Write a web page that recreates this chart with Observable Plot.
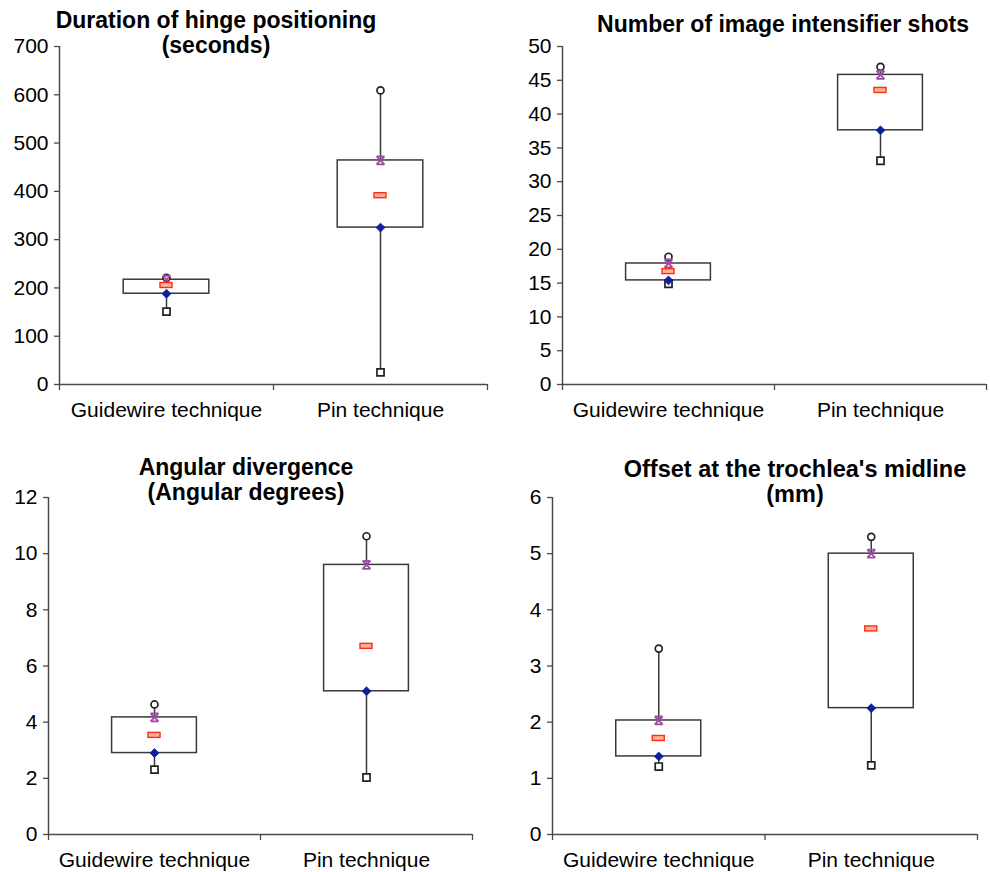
<!DOCTYPE html>
<html>
<head>
<meta charset="utf-8">
<script src="https://cdn.jsdelivr.net/npm/d3@7"></script>
<script src="https://cdn.jsdelivr.net/npm/@observablehq/plot@0.6"></script>
<style>
  body { margin: 0; background: #fff; }
  #root { position: relative; width: 990px; height: 872px; font-family: "Liberation Sans", Arial, Helvetica, sans-serif; }
  .panel { position: absolute; }
  .title { position: absolute; width: 500px; text-align: center; font-weight: bold; line-height: 25px; color: #000; white-space: nowrap; }
</style>
</head>
<body>
<div id="root"></div>
<script>
// ---- data ----
const categories = ["Guidewire technique", "Pin technique"];

const hingeTitle = ["Duration of hinge positioning", "(seconds)"];
const hingeTicks = [0, 100, 200, 300, 400, 500, 600, 700];
const hingeMin = [151, 25];
const hingeQ1 = [188, 325];
const hingeMedian = [205, 391];
const hingeQ3 = [217, 464];
const hingeMax = [221, 609];

const shotsTitle = ["Number of image intensifier shots"];
const shotsTicks = [0, 5, 10, 15, 20, 25, 30, 35, 40, 45, 50];
const shotsMin = [14.9, 33.1];
const shotsQ1 = [15.4, 37.6];
const shotsMedian = [16.7, 43.5];
const shotsQ3 = [17.9, 45.8];
const shotsMax = [18.9, 47.0];

const angTitle = ["Angular divergence", "(Angular degrees)"];
const angTicks = [0, 2, 4, 6, 8, 10, 12];
const angMin = [2.31, 2.03];
const angQ1 = [2.9, 5.1];
const angMedian = [3.53, 6.7];
const angQ3 = [4.17, 9.6];
const angMax = [4.63, 10.62];

const offTitle = ["Offset at the trochlea's midline", "(mm)"];
const offTicks = [0, 1, 2, 3, 4, 5, 6];
const offMin = [1.21, 1.23];
const offQ1 = [1.39, 2.25];
const offMedian = [1.71, 3.66];
const offQ3 = [2.03, 5.0];
const offMax = [3.31, 5.3];

// ---- layout (positions/sizes) ----
const panels = [
  {title: hingeTitle, ticks: hingeTicks, min: hingeMin, q1: hingeQ1, med: hingeMedian, q3: hingeQ3, max: hingeMax,
   left: 0, top: 0, width: 495, height: 430, mL: 59, mR: 8, mT: 46, mB: 46, tx: 216, ty: 7.5, fs: 23},
  {title: shotsTitle, ticks: shotsTicks, min: shotsMin, q1: shotsQ1, med: shotsMedian, q3: shotsQ3, max: shotsMax,
   left: 495, top: 0, width: 495, height: 430, mL: 67, mR: 4, mT: 46, mB: 46, tx: 783, ty: 11.5, fs: 23},
  {title: angTitle, ticks: angTicks, min: angMin, q1: angQ1, med: angMedian, q3: angQ3, max: angMax,
   left: 0, top: 430, width: 495, height: 442, mL: 48, mR: 23, mT: 67, mB: 38, tx: 246, ty: 454.5, fs: 23},
  {title: offTitle, ticks: offTicks, min: offMin, q1: offQ1, med: offMedian, q3: offQ3, max: offMax,
   left: 495, top: 430, width: 495, height: 442, mL: 57, mR: 13, mT: 67, mB: 38, tx: 795, ty: 456.5, fs: 23.5}
];

const hourglass = {
  draw(context, size) {
    const r = Math.sqrt(size) / 2;
    context.moveTo(-r, -r); context.lineTo(r, r);
    context.moveTo(r, -r); context.lineTo(-r, r);
    context.moveTo(-r, -r); context.lineTo(r, -r);
    context.moveTo(-r, r); context.lineTo(r, r);
  }
};

const root = document.getElementById("root");
const idx = [0, 1];
const axisColor = "#4a4a4a";

for (const p of panels) {
  const yMax = p.ticks[p.ticks.length - 1];
  const chart = Plot.plot({
    width: p.width,
    height: p.height,
    marginLeft: p.mL,
    marginRight: p.mR,
    marginTop: p.mT,
    marginBottom: p.mB,
    x: {domain: [0, 2], axis: null},
    y: {domain: [0, yMax], axis: null},
    style: {fontFamily: '"Liberation Sans", Arial, Helvetica, sans-serif', fontSize: "21px", color: "#000", background: "white", overflow: "visible"},
    marks: [
      Plot.axisY({ticks: p.ticks, tickSize: 5, tickPadding: 6, tickFormat: d => String(d), stroke: axisColor, fill: "#000", fontSize: 21, strokeWidth: 1.3}),
      Plot.axisX({ticks: [0, 1, 2], tickSize: 6, tickFormat: () => "", stroke: axisColor, strokeWidth: 1.3}),
      Plot.axisX({ticks: [0.5, 1.5], tickSize: 0, tickPadding: 18, tickFormat: d => categories[Math.floor(d)], fill: "#000", fontSize: 21}),
      Plot.ruleX([0], {stroke: axisColor, strokeWidth: 1.5}),
      Plot.ruleY([0], {stroke: axisColor, strokeWidth: 1.5}),
      // whiskers
      Plot.ruleX(idx, {x: i => i + 0.5, y1: i => p.min[i], y2: i => p.max[i], stroke: "#3a3a3a", strokeWidth: 1.5}),
      // boxes
      Plot.rect(idx, {x1: i => i + 0.3, x2: i => i + 0.7, y1: i => p.q1[i], y2: i => p.q3[i], fill: "white", stroke: "#3a3a3a", strokeWidth: 1.5}),
      // max (open circle)
      Plot.dot(idx, {x: i => i + 0.5, y: i => p.max[i], symbol: "circle", r: 3.5, fill: "white", stroke: "#222", strokeWidth: 1.7}),
      // min (open square)
      Plot.dot(idx, {x: i => i + 0.5, y: i => p.min[i], symbol: "square", r: 4, fill: "white", stroke: "#222", strokeWidth: 1.7}),
      // Q3 (purple hourglass)
      Plot.dot(idx, {x: i => i + 0.5, y: i => p.q3[i], symbol: hourglass, r: 4.5, fill: "none", stroke: "#a04aa8", strokeWidth: 1.8}),
      // Q1 (blue diamond)
      Plot.dot(idx, {x: i => i + 0.5, y: i => p.q1[i], symbol: "diamond2", r: 4, fill: "#0d1f9a", stroke: "#0d1f9a", strokeWidth: 0.8}),
      // median (red dash)
      Plot.rect(idx, {x1: i => i + 0.5, x2: i => i + 0.5, y1: i => p.med[i], y2: i => p.med[i],
        insetLeft: -6, insetRight: -6, insetTop: -2.5, insetBottom: -2.5, fill: "#ffb0a0", stroke: "#ff2d10", strokeWidth: 1.4})
    ]
  });
  const wrap = document.createElement("div");
  wrap.className = "panel";
  wrap.style.left = p.left + "px";
  wrap.style.top = p.top + "px";
  wrap.appendChild(chart);
  root.appendChild(wrap);

  const t = document.createElement("div");
  t.className = "title";
  t.style.left = (p.tx - 250) + "px";
  t.style.top = p.ty + "px";
  t.style.fontSize = p.fs + "px";
  t.innerHTML = p.title.map(s => s.replace(/&/g, "&amp;").replace(/</g, "&lt;")).join("<br>");
  root.appendChild(t);
}
</script>
</body>
</html>
